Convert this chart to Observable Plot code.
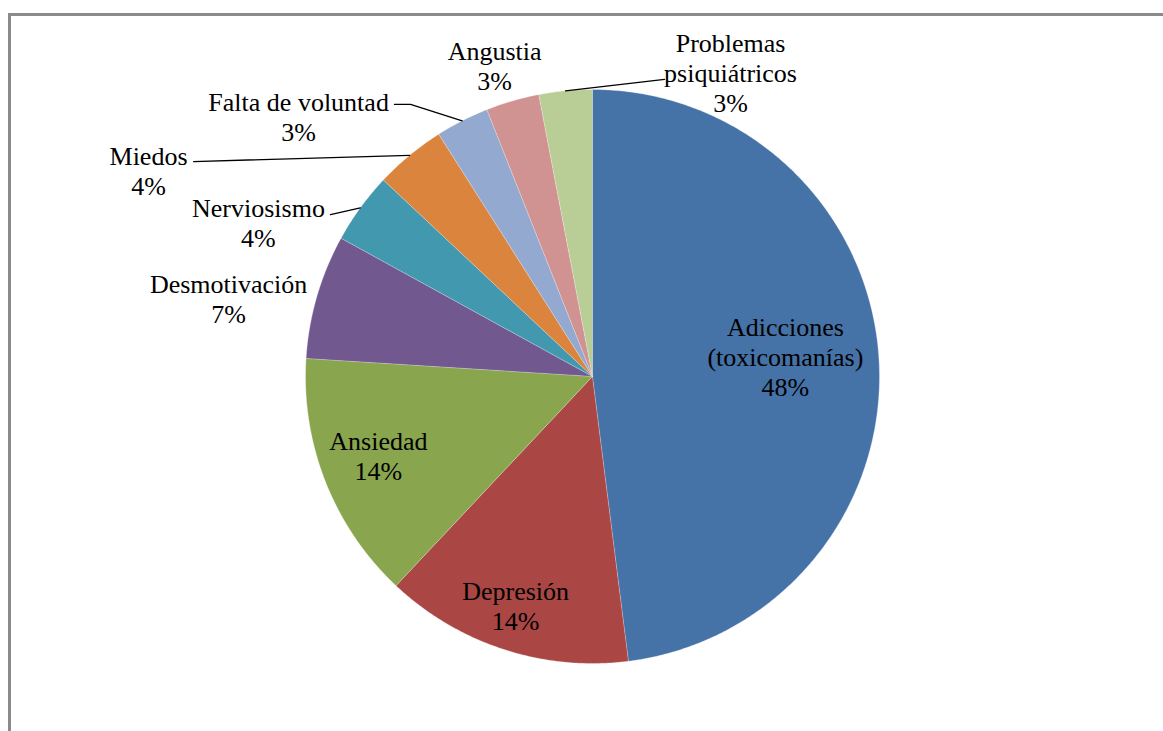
<!DOCTYPE html>
<html>
<head>
<meta charset="utf-8">
<script src="https://cdn.jsdelivr.net/npm/d3@7"></script>
<script src="https://cdn.jsdelivr.net/npm/@observablehq/plot@0.6"></script>
<style>
  html, body { margin: 0; padding: 0; background: #fff; overflow: hidden; }
  #wrap { position: relative; width: 1163px; height: 731px; }
  #frame { position: absolute; left: 8px; top: 13px; width: 1300px; height: 900px;
           border: 3px solid #8a8a8a; box-sizing: border-box; pointer-events: none; }
  #chart { position: absolute; left: 0; top: 0; }
  #chart svg text { font-family: "Liberation Serif", "Times New Roman", serif; }
</style>
</head>
<body>
<div id="wrap"><div id="chart"></div><div id="frame"></div></div>
<script>
// Motivos (porcentaje de respuestas)
const categories = [
  "Adicciones\n(toxicomanías)", "Depresión", "Ansiedad", "Desmotivación",
  "Nerviosismo", "Miedos", "Falta de voluntad", "Angustia", "Problemas\npsiquiátricos"
];
const percents = [48, 14, 14, 7, 4, 4, 3, 3, 3];
const colors = ["#4572A7", "#AA4643", "#89A54E", "#71588F", "#4198AF",
                "#DB843D", "#93A9CF", "#D19392", "#B9CD96"];

// Label placement, in units of the pie radius (x right, y up)
const labelAt = [
  [0.672, 0.070], [-0.268, -0.798], [-0.746, -0.275], [-1.268, 0.272],
  [-1.164, 0.537], [-1.547, 0.718], [-1.024, 0.906], [-0.341, 1.084], [0.481, 1.059]
];
// Leader lines: start (and optional knee) per label, ending on the slice's arc
const leaders = [
  {i: 4, pts: [[-0.913, 0.564]]},
  {i: 5, pts: [[-1.390, 0.749]]},
  {i: 6, pts: [[-0.690, 0.948], [-0.634, 0.948]]},
  {i: 8, pts: [[0.251, 1.035]]}
];

const W = 1163, H = 731, CX = 592, CY = 376, R = 287;

const arcs = d3.pie().sort(null).value(d => d)(percents);

// Slice outlines: centre point plus points along the arc
const slices = [];
arcs.forEach((a, i) => {
  const n = Math.max(2, Math.ceil((a.endAngle - a.startAngle) / (Math.PI / 360)));
  slices.push({cat: categories[i], x: 0, y: 0});
  for (let k = 0; k <= n; k++) {
    const t = a.startAngle + (a.endAngle - a.startAngle) * k / n;
    slices.push({cat: categories[i], x: Math.sin(t), y: Math.cos(t)});
  }
});

const labels = categories.map((c, i) => ({
  text: c + "\n" + percents[i] + "%",
  x: labelAt[i][0], y: labelAt[i][1]
}));

const leaderPts = [];
leaders.forEach(l => {
  const a = arcs[l.i];
  const mid = (a.startAngle + a.endAngle) / 2;
  l.pts.forEach(p => leaderPts.push({k: l.i, x: p[0], y: p[1]}));
  leaderPts.push({k: l.i, x: Math.sin(mid), y: Math.cos(mid)});
});

const serif = "Liberation Serif";

const chart = Plot.plot({
  width: W, height: H,
  margin: 0,
  x: {domain: [-CX / R, (W - CX) / R], range: [0, W], axis: null},
  y: {domain: [(CY - H) / R, CY / R], range: [H, 0], axis: null},
  color: {domain: categories, range: colors},
  style: {fontFamily: serif, background: "#fff"},
  marks: [
    Plot.line(slices, {x: "x", y: "y", z: "cat", fill: "cat",
      stroke: "#ffffff", strokeWidth: 0.6, strokeOpacity: 0.5}),
    Plot.line(leaderPts, {x: "x", y: "y", z: "k", stroke: "#000", strokeWidth: 1.3}),
    Plot.text(labels, {x: "x", y: "y", text: "text", fontSize: 26, fontFamily: serif,
      lineHeight: 1.15, fill: "#000", textAnchor: "middle", lineAnchor: "middle"})
  ]
});
document.getElementById("chart").appendChild(chart);
</script>
</body>
</html>
